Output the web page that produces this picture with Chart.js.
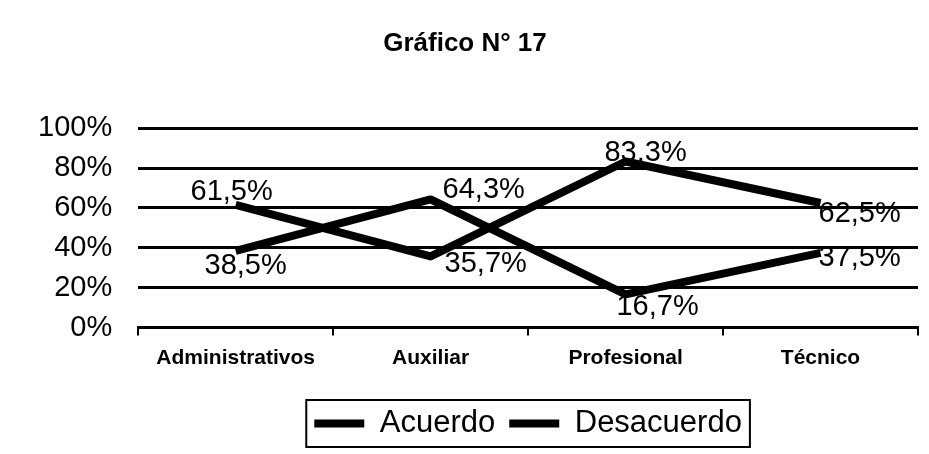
<!DOCTYPE html>
<html>
<head>
<meta charset="utf-8">
<script src="https://cdn.jsdelivr.net/npm/chart.js@4.4.1/dist/chart.umd.min.js"></script>
<style>
  html, body { margin: 0; padding: 0; background: #fff; }
  #wrap { width: 929px; height: 454px; }
</style>
</head>
<body>
<div id="wrap"><canvas id="chart17"></canvas></div>
<script>
// data
const categories = ['Administrativos', 'Auxiliar', 'Profesional', 'Técnico'];
const acuerdo = [61.5, 35.7, 83.3, 62.5];
const desacuerdo = [38.5, 64.3, 16.7, 37.5];
const yTicks = [0, 20, 40, 60, 80, 100];

// where each value label sits relative to its point (dx, dy, align)
const labelPos = [
  [[-4, -13, 'center'], [14, 8, 'left'], [20, -8, 'center'], [-2, 11, 'left']],
  [[10, 15, 'center'], [12, -9, 'left'], [32, 13, 'center'], [-2, 5, 'left']]
];

const fmt = v => v.toFixed(1).replace('.', ',') + '%';

const valueLabels = {
  id: 'valueLabels',
  afterDatasetsDraw(chart) {
    const ctx = chart.ctx;
    ctx.save();
    ctx.fillStyle = '#000';
    ctx.font = '29px "Liberation Sans", Arial, sans-serif';
    ctx.textBaseline = 'middle';
    chart.data.datasets.forEach((ds, i) => {
      chart.getDatasetMeta(i).data.forEach((pt, j) => {
        const p = labelPos[i][j];
        ctx.textAlign = p[2];
        ctx.fillText(fmt(ds.data[j]), pt.x + p[0], pt.y + p[1]);
      });
    });
    ctx.restore();
  }
};

// box round the legend, like the original
const legendBox = {
  id: 'legendBox',
  afterDraw(chart) {
    const hb = chart.legend.legendHitBoxes;
    if (!hb || !hb.length) return;
    const l = Math.min(...hb.map(b => b.left)) - 8;
    const r = Math.max(...hb.map(b => b.left + b.width)) + 8;
    const t = Math.min(...hb.map(b => b.top)) - 8;
    const btm = Math.max(...hb.map(b => b.top + b.height)) + 8;
    const ctx = chart.ctx;
    ctx.save();
    ctx.strokeStyle = '#000';
    ctx.lineWidth = 2;
    ctx.strokeRect(l, t, r - l, btm - t);
    ctx.restore();
  }
};

new Chart(document.getElementById('chart17'), {
  type: 'line',
  data: {
    labels: categories,
    datasets: [
      { label: 'Acuerdo', data: acuerdo },
      { label: 'Desacuerdo', data: desacuerdo }
    ].map(d => Object.assign(d, {
      borderColor: '#000',
      backgroundColor: '#000',
      borderWidth: 8,
      borderJoinStyle: 'round',
      pointRadius: 0,
      pointStyle: 'line',
      tension: 0
    }))
  },
  options: {
    responsive: true,
    maintainAspectRatio: false,
    animation: false,
    layout: { padding: { left: 12, right: 11, top: 4, bottom: 5 } },
    plugins: {
      title: {
        display: true,
        text: 'Gráfico N° 17',
        color: '#000',
        font: { family: '"Liberation Sans", Arial, sans-serif', size: 26, weight: 'bold' },
        padding: { top: 24, bottom: 69 }
      },
      legend: {
        position: 'bottom',
        fullSize: false,
        title: { display: true, text: '', font: { size: 1 }, padding: { top: 0, bottom: 12 } },
        labels: {
          color: '#000',
          usePointStyle: true,
          pointStyleWidth: 50,
          boxHeight: 8,
          padding: 14,
          font: { family: '"Liberation Sans", Arial, sans-serif', size: 31 }
        }
      },
      tooltip: { enabled: false }
    },
    scales: {
      x: {
        offset: true,
        grid: {
          display: true,
          offset: true,
          drawOnChartArea: false,
          drawTicks: true,
          tickLength: 8,
          color: '#000',
          lineWidth: 2
        },
        border: { display: true, color: '#000', width: 3 },
        ticks: {
          color: '#000',
          padding: 10,
          maxRotation: 0,
          font: { family: '"Liberation Sans", Arial, sans-serif', size: 21, weight: 'bold' }
        }
      },
      y: {
        min: 0,
        max: 100,
        afterBuildTicks: axis => { axis.ticks = yTicks.map(v => ({ value: v })); },
        grid: { color: '#000', lineWidth: 3, drawTicks: false },
        border: { display: false },
        ticks: {
          color: '#000',
          padding: 26,
          callback: v => v + '%',
          font: { family: '"Liberation Sans", Arial, sans-serif', size: 29 }
        }
      }
    }
  },
  plugins: [valueLabels, legendBox]
});
</script>
</body>
</html>
